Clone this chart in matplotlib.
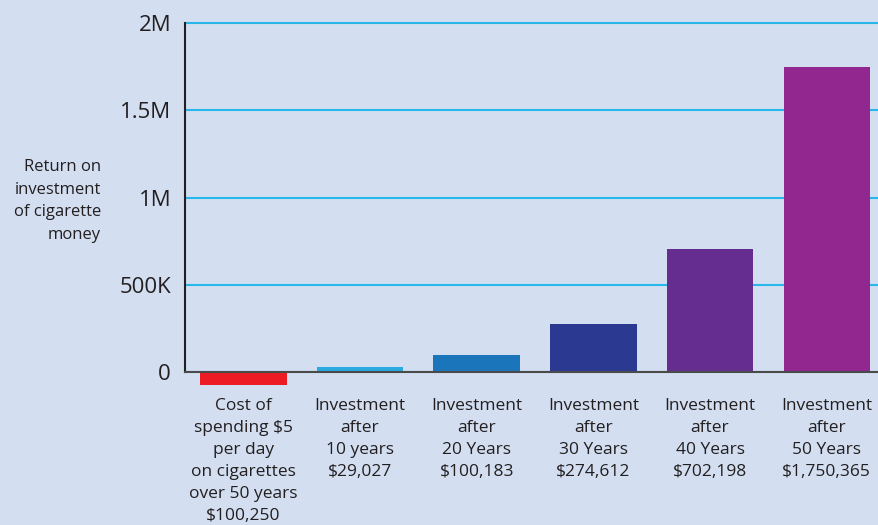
import matplotlib.pyplot as plt
import numpy as np

# =============================================================================
# Data
# =============================================================================

categories = [
    "Cost of\nspending $5\nper day\non cigarettes\nover 50 years\n$100,250",
    "Investment\nafter\n10 years\n$29,027",
    "Investment\nafter\n20 Years\n$100,183",
    "Investment\nafter\n30 Years\n$274,612",
    "Investment\nafter\n40 Years\n$702,198",
    "Investment\nafter\n50 Years\n$1,750,365",
]
values = [-75000, 29027, 100183, 274612, 702198, 1750365]
bar_colors = ["#ed1c24", "#29abe2", "#1b75bb", "#2b3990", "#662d91", "#92278f"]

yticks = [0, 500000, 1000000, 1500000, 2000000]
ytick_labels = ["0", "500K", "1M", "1.5M", "2M"]

bg = "#d3dff1"
text_color = "#231f20"

plt.rcParams['font.family'] = ['Open Sans', 'DejaVu Sans']

fig = plt.figure(figsize=(8.79, 5.25), dpi=100)
fig.set_facecolor(bg)

# axes runs a little past the right edge of the figure, like the reference
# top is a hair above 2M so the top gridline isn't clipped in half
ymax = 2012000
top_px = 372 - 349 * ymax / 2000000
ax = fig.add_axes([185 / 879, (525 - 372) / 525, 700 / 879, (372 - top_px) / 525])
ax.set_facecolor(bg)

x = np.arange(len(categories))
ax.bar(x, values, width=0.74, color=bar_colors, zorder=3, clip_on=False)

ax.set_xlim(-0.5, len(categories) - 0.5)
ax.set_ylim(0, ymax)

ax.set_yticks(yticks)
ax.set_yticklabels(ytick_labels, fontsize=16, color=text_color)
ax.set_xticks(x)
ax.set_xticklabels(categories, fontsize=12.5, color=text_color, linespacing=1.49, va="top")
ax.tick_params(axis="x", length=0, pad=19)
ax.tick_params(axis="y", length=0, pad=10)

ax.yaxis.grid(True, color="#29b6e8", linewidth=1.5, zorder=1)
ax.set_axisbelow(True)

for s in ["top", "right"]:
    ax.spines[s].set_visible(False)
ax.spines["left"].set_color(text_color)
ax.spines["left"].set_linewidth(1.5)
ax.spines["left"].set_bounds(0, 2000000)
ax.spines["bottom"].set_color("#4a4a4a")
ax.spines["bottom"].set_linewidth(1.5)
ax.spines["bottom"].set_zorder(4)

fig.text(101 / 879, 1 - 201 / 525, "Return on\ninvestment\nof cigarette\nmoney",
         ha="right", va="center", fontsize=12, color=text_color, linespacing=1.57)

plt.savefig("out.png", dpi=100, facecolor=bg)
